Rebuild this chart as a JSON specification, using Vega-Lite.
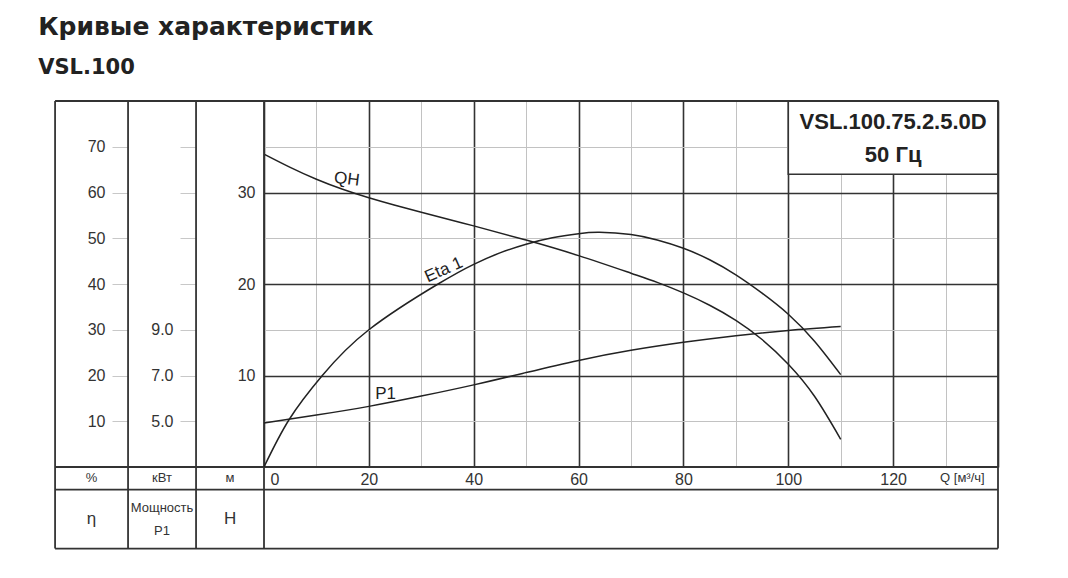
{
  "$schema": "https://vega.github.io/schema/vega-lite/v6.json",
  "width": 734,
  "height": 366,
  "autosize": "none",
  "padding": {"left": 264, "top": 101, "right": 70, "bottom": 111},
  "background": "white",
  "config": {
    "view": {"stroke": null},
    "font": "Liberation Sans",
    "axis": {"labelColor": "#333", "labelFont": "Liberation Sans", "labelFontSize": 16, "title": null, "labelOverlap": false, "labelBound": false, "labelFlush": false}
  },
  "title": {
    "text": "Кривые характеристик",
    "subtitle": "VSL.100",
    "anchor": "start",
    "dx": -16,
    "font": "DejaVu Sans",
    "fontSize": 25,
    "fontWeight": "bold",
    "color": "#222",
    "subtitleFont": "DejaVu Sans",
    "subtitleFontSize": 21,
    "subtitleFontWeight": "bold",
    "subtitleColor": "#222",
    "subtitlePadding": 17,
    "offset": 22
  },
  "datasets": {
    "qh": [
      {"Q": 0, "H": 34.2}, {"Q": 5, "H": 32.75}, {"Q": 10, "H": 31.45}, {"Q": 15, "H": 30.35},
      {"Q": 20, "H": 29.42}, {"Q": 25, "H": 28.6}, {"Q": 30, "H": 27.85}, {"Q": 40, "H": 26.35},
      {"Q": 50, "H": 24.8}, {"Q": 60, "H": 23.1}, {"Q": 70, "H": 21.18}, {"Q": 75, "H": 20.18},
      {"Q": 80, "H": 19.03}, {"Q": 85, "H": 17.68}, {"Q": 90, "H": 16.03}, {"Q": 95, "H": 13.93},
      {"Q": 100, "H": 11.23}, {"Q": 105, "H": 7.73}, {"Q": 110, "H": 3.03}
    ],
    "eta": [
      {"Q": 0, "eta": 0}, {"Q": 4.77, "eta": 10.33}, {"Q": 11.12, "eta": 20.0}, {"Q": 20, "eta": 30.0},
      {"Q": 33.2, "eta": 40.0}, {"Q": 40, "eta": 44.3}, {"Q": 45, "eta": 46.8}, {"Q": 50, "eta": 48.7},
      {"Q": 55, "eta": 50.1}, {"Q": 60, "eta": 51.0}, {"Q": 64, "eta": 51.3}, {"Q": 70, "eta": 50.8},
      {"Q": 75, "eta": 49.6}, {"Q": 80, "eta": 47.8}, {"Q": 85, "eta": 45.3}, {"Q": 90, "eta": 42.0},
      {"Q": 95, "eta": 38.0}, {"Q": 100, "eta": 33.4}, {"Q": 105, "eta": 27.5}, {"Q": 110, "eta": 20.2}
    ],
    "p1": [
      {"Q": 0, "P1": 4.92}, {"Q": 10, "P1": 5.27}, {"Q": 20, "P1": 5.65}, {"Q": 30, "P1": 6.1},
      {"Q": 40, "P1": 6.59}, {"Q": 50, "P1": 7.13}, {"Q": 60, "P1": 7.66}, {"Q": 70, "P1": 8.1},
      {"Q": 80, "P1": 8.45}, {"Q": 90, "P1": 8.74}, {"Q": 100, "P1": 8.97}, {"Q": 110, "P1": 9.14}
    ],
    "frame": [
      {"x1": -39.85, "x2": -39.85, "y1": -8.92, "y2": 40},
      {"x1": -25.93, "x2": -25.93, "y1": -8.92, "y2": 40},
      {"x1": -12.96, "x2": -12.96, "y1": -8.92, "y2": 40},
      {"x1": 0, "x2": 0, "y1": -8.92, "y2": 40},
      {"x1": 140, "x2": 140, "y1": -8.92, "y2": 40},
      {"x1": -39.85, "x2": 140, "y1": 40, "y2": 40},
      {"x1": -39.85, "x2": 140, "y1": 0, "y2": 0},
      {"x1": -39.85, "x2": 140, "y1": -2.48, "y2": -2.48},
      {"x1": -39.85, "x2": 140, "y1": -8.92, "y2": -8.92}
    ],
    "units": [
      {"q": -32.9, "h": -1.24, "t": "%"},
      {"q": -19.45, "h": -1.24, "t": "кВт"},
      {"q": -6.48, "h": -1.24, "t": "м"}
    ],
    "names": [
      {"q": -32.9, "h": -5.7, "t": "η"},
      {"q": -6.48, "h": -5.7, "t": "H"}
    ],
    "power": [
      {"q": -19.45, "h": -4.45, "t": "Мощность\nP1"}
    ],
    "box": [{"q0": 100, "q1": 140, "h0": 32, "h1": 40}],
    "boxtext": [
      {"q": 120, "h": 37.7, "t": "VSL.100.75.2.5.0D"},
      {"q": 120, "h": 34.1, "t": "50 Гц"}
    ]
  },
  "layer": [
    {
      "layer": [
        {
          "data": {"name": "qh"},
          "mark": {"type": "line", "interpolate": "natural", "color": "#222", "strokeWidth": 1.5},
          "encoding": {
            "x": {
              "field": "Q", "type": "quantitative",
              "scale": {"domain": [0, 140], "nice": false, "zero": false},
              "axis": {
                "orient": "bottom",
                "values": [0, 10, 20, 30, 40, 50, 60, 70, 80, 90, 100, 110, 120, 130, 140],
                "labelExpr": "datum.value === 130 ? 'Q [м³/ч]' : ((datum.value % 20 === 0 && datum.value <= 120) ? datum.label : '')",
                "labelAlign": {"condition": {"test": "datum.value === 0 || datum.value === 130", "value": "left"}, "value": "center"},
                "labelOffset": {"condition": [{"test": "datum.value === 0", "value": 6}, {"test": "datum.value === 130", "value": -6}], "value": 0},
                "labelFontSize": {"condition": {"test": "datum.value === 130", "value": 13}, "value": 16},
                "labelPadding": 4,
                "ticks": false,
                "domain": false,
                "grid": true,
                "gridColor": {"condition": {"test": "datum.value % 20 === 0", "value": "#333"}, "value": "#c2c2c2"},
                "gridWidth": {"condition": {"test": "datum.value % 20 === 0", "value": 1.6}, "value": 1}
              }
            },
            "y": {
              "field": "H", "type": "quantitative",
              "scale": {"domain": [0, 40], "nice": false, "zero": false},
              "axis": {
                "orient": "left",
                "values": [5, 10, 15, 20, 25, 30, 35],
                "labelExpr": "datum.value % 10 === 0 ? datum.label : ''",
                "ticks": false,
                "domain": false,
                "labelPadding": 9,
                "grid": true,
                "gridColor": {"condition": {"test": "datum.value % 10 === 0", "value": "#333"}, "value": "#c2c2c2"},
                "gridWidth": {"condition": {"test": "datum.value % 10 === 0", "value": 1.6}, "value": 1}
              }
            }
          }
        },
        {
          "data": {"name": "box"},
          "mark": {"type": "rect", "fill": "white", "stroke": "#333", "strokeWidth": 1.6},
          "encoding": {
            "x": {"field": "q0", "type": "quantitative"},
            "x2": {"field": "q1"},
            "y": {"field": "h0", "type": "quantitative"},
            "y2": {"field": "h1"}
          }
        },
        {
          "data": {"name": "boxtext"},
          "mark": {"type": "text", "font": "Liberation Sans", "fontSize": 22, "fontWeight": "bold", "color": "#222", "align": "center", "baseline": "middle"},
          "encoding": {
            "x": {"field": "q", "type": "quantitative"},
            "y": {"field": "h", "type": "quantitative"},
            "text": {"field": "t"}
          }
        },
        {
          "data": {"values": [{"q": 15.8, "h": 31.45, "t": "QH"}]},
          "mark": {"type": "text", "font": "Liberation Sans", "fontSize": 17, "color": "#222", "align": "center", "baseline": "middle", "angle": 7},
          "encoding": {
            "x": {"field": "q", "type": "quantitative"},
            "y": {"field": "h", "type": "quantitative"},
            "text": {"field": "t"}
          }
        },
        {
          "data": {"name": "frame"},
          "mark": {"type": "rule", "color": "#333", "strokeWidth": 1.8},
          "encoding": {
            "x": {"field": "x1", "type": "quantitative"},
            "x2": {"field": "x2"},
            "y": {"field": "y1", "type": "quantitative"},
            "y2": {"field": "y2"}
          }
        },
        {
          "data": {"name": "units"},
          "mark": {"type": "text", "font": "Liberation Sans", "fontSize": 13, "color": "#333", "align": "center", "baseline": "middle"},
          "encoding": {
            "x": {"field": "q", "type": "quantitative"},
            "y": {"field": "h", "type": "quantitative"},
            "text": {"field": "t"}
          }
        },
        {
          "data": {"name": "names"},
          "mark": {"type": "text", "font": "Liberation Sans", "fontSize": 17, "color": "#333", "align": "center", "baseline": "middle"},
          "encoding": {
            "x": {"field": "q", "type": "quantitative"},
            "y": {"field": "h", "type": "quantitative"},
            "text": {"field": "t"}
          }
        },
        {
          "data": {"name": "power"},
          "mark": {"type": "text", "font": "Liberation Sans", "fontSize": 13, "color": "#333", "align": "center", "baseline": "middle", "lineBreak": "\n", "lineHeight": 23},
          "encoding": {
            "x": {"field": "q", "type": "quantitative"},
            "y": {"field": "h", "type": "quantitative"},
            "text": {"field": "t"}
          }
        }
      ]
    },
    {
      "layer": [
        {
          "data": {"name": "eta"},
          "mark": {"type": "line", "interpolate": "natural", "color": "#222", "strokeWidth": 1.5},
          "encoding": {
            "x": {"field": "Q", "type": "quantitative"},
            "y": {
              "field": "eta", "type": "quantitative",
              "scale": {"domain": [0, 80], "nice": false, "zero": false},
              "axis": {
                "orient": "left", "offset": 136,
                "values": [10, 20, 30, 40, 50, 60, 70],
                "tickSize": 16, "tickColor": "#c8c8c8", "tickWidth": 1,
                "domain": false, "grid": false, "labelPadding": 7
              }
            }
          }
        },
        {
          "data": {"values": [{"q": 34.3, "v": 43.1, "t": "Eta 1"}]},
          "mark": {"type": "text", "font": "Liberation Sans", "fontSize": 17, "color": "#222", "align": "center", "baseline": "middle", "angle": -24},
          "encoding": {
            "x": {"field": "q", "type": "quantitative"},
            "y": {"field": "v", "type": "quantitative"},
            "text": {"field": "t"}
          }
        }
      ]
    },
    {
      "layer": [
        {
          "data": {"name": "p1"},
          "mark": {"type": "line", "interpolate": "natural", "color": "#222", "strokeWidth": 1.5},
          "encoding": {
            "x": {"field": "Q", "type": "quantitative"},
            "y": {
              "field": "P1", "type": "quantitative",
              "scale": {"domain": [3, 19], "nice": false, "zero": false},
              "axis": {
                "orient": "left", "offset": 68,
                "values": [5, 7, 9, 11, 13, 15, 17],
                "labelExpr": "datum.value <= 9 ? format(datum.value, '.1f') : ''",
                "tickSize": 16, "tickColor": "#c8c8c8", "tickWidth": 1,
                "domain": false, "grid": false, "labelPadding": 7
              }
            }
          }
        },
        {
          "data": {"values": [{"q": 23.2, "v": 6.18, "t": "P1"}]},
          "mark": {"type": "text", "font": "Liberation Sans", "fontSize": 17, "color": "#222", "align": "center", "baseline": "middle"},
          "encoding": {
            "x": {"field": "q", "type": "quantitative"},
            "y": {"field": "v", "type": "quantitative"},
            "text": {"field": "t"}
          }
        }
      ]
    }
  ],
  "resolve": {"scale": {"y": "independent"}}
}
